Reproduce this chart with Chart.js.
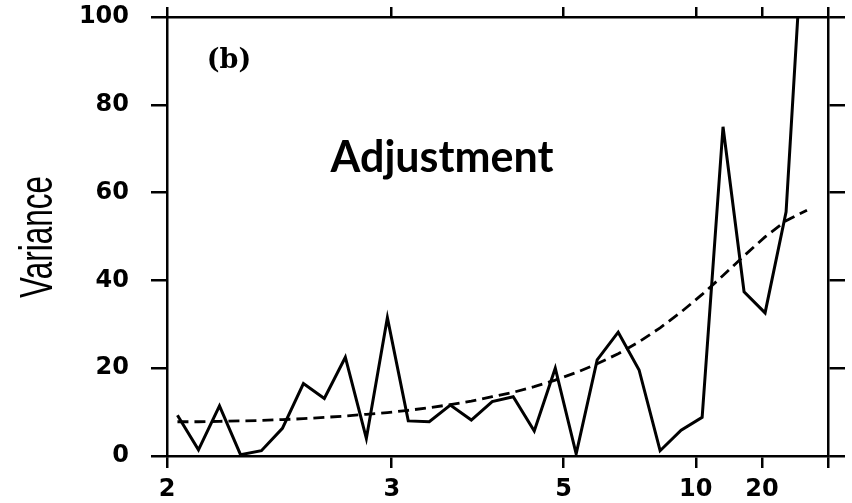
<!DOCTYPE html>
<html>
<head>
<meta charset="utf-8">
<script src="https://cdn.jsdelivr.net/npm/chart.js@4.4.0/dist/chart.umd.min.js"></script>
<style>
  html, body { margin: 0; padding: 0; background: #fff; }
</style>
</head>
<body>
<canvas id="chart" width="852" height="503"></canvas>
<script>
// frequency (cycles/yr) of each spectral estimate, left to right
const freq = [0.4921, 0.4762, 0.4603, 0.4444, 0.4286, 0.4127, 0.3968, 0.3810,
  0.3651, 0.3492, 0.3333, 0.3175, 0.3016, 0.2857, 0.2698, 0.2540, 0.2381,
  0.2222, 0.2063, 0.1905, 0.1746, 0.1587, 0.1429, 0.1270, 0.1111, 0.0952,
  0.0794, 0.0635, 0.0476, 0.0317, 0.0159];

// spectrum (solid line)
const variance = [9.3, 1.4, 11.4, 0.3, 1.2, 6.3, 16.5, 13.1, 22.5, 4.0, 31.5,
  8.0, 7.8, 11.6, 8.2, 12.4, 13.5, 5.7, 20.0, 0.5, 21.9, 28.2, 19.6, 1.2, 5.9,
  8.8, 75.0, 37.4, 32.6, 55.6, 135];

// red noise background (dashed line)
const redNoise = [7.8, 7.8, 7.9, 8.0, 8.1, 8.3, 8.5, 8.8, 9.1, 9.5, 9.9, 10.4,
  11.0, 11.7, 12.5, 13.5, 14.5, 15.8, 17.3, 19.0, 21.0, 23.3, 26.0, 29.2, 32.8,
  36.8, 41.1, 45.6, 49.9, 53.6, 56.0];

// x ticks are periods (years) placed at their frequency
const xTickFreqs = [0.5, 0.33, 0.2, 0.1, 0.05, 0];
const xTickLabels = ['2', '3', '5', '10', '20', ''];

const tickFont = { family: 'DejaVu Sans', weight: 'bold', size: 24 };

function setXTicks(scale) {
  scale.ticks = xTickFreqs.map(v => ({ value: v }));
}

// panel letter, annotation and condensed y title
const annotate = {
  id: 'annotate',
  afterDraw(chart) {
    const ctx = chart.ctx;
    ctx.save();
    ctx.fillStyle = '#000';
    ctx.textAlign = 'center';
    ctx.textBaseline = 'middle';
    ctx.font = 'bold 27px "DejaVu Serif"';
    ctx.fillText('(b)', 229, 61);

    ctx.textBaseline = 'alphabetic';
    ctx.font = 'bold 43px Lato';
    ctx.fillText('Adjustment', 442, 172);

    ctx.translate(52, 237);
    ctx.rotate(-Math.PI / 2);
    ctx.scale(0.67, 1);
    ctx.font = '47px "Liberation Sans"';
    ctx.fillText('Variance', 0, 0);
    ctx.restore();
  }
};

const ctx = document.getElementById('chart').getContext('2d');

new Chart(ctx, {
  type: 'line',
  data: {
    datasets: [
      {
        label: 'Variance',
        data: freq.map((f, i) => ({ x: f, y: variance[i] })),
        borderColor: '#000',
        borderWidth: 3,
        pointRadius: 0,
        fill: false,
        tension: 0,
      },
      {
        label: 'Red noise',
        data: freq.map((f, i) => ({ x: f, y: redNoise[i] })),
        borderColor: '#000',
        borderWidth: 2.8,
        borderDash: [11, 6],
        pointRadius: 0,
        fill: false,
        tension: 0,
      },
    ],
  },
  options: {
    responsive: false,
    animation: false,
    layout: { padding: 0 },
    plugins: { legend: { display: false }, tooltip: { enabled: false } },
    scales: {
      x: {
        type: 'linear', position: 'bottom', min: 0, max: 0.5, reverse: true,
        afterBuildTicks: setXTicks,
        afterFit: s => { s.height = 47; s.paddingLeft = 0; s.paddingRight = 0; },
        ticks: {
          callback: (v, i) => xTickLabels[i],
          font: tickFont, color: '#000', padding: 7,
          maxRotation: 0, autoSkip: false,
        },
        grid: { drawOnChartArea: false, tickLength: 12, color: '#000', lineWidth: 2.5 },
        border: { color: '#000', width: 2.5 },
      },
      x2: {
        type: 'linear', position: 'top', min: 0, max: 0.5, reverse: true,
        afterBuildTicks: setXTicks,
        afterFit: s => { s.height = 17; },
        ticks: { display: false },
        grid: { drawOnChartArea: false, tickLength: 10, color: '#000', lineWidth: 2.5 },
        border: { color: '#000', width: 2.5 },
      },
      y: {
        type: 'linear', position: 'left', min: 0, max: 100,
        afterFit: s => { s.width = 167; s.paddingTop = 0; s.paddingBottom = 0; },
        ticks: { stepSize: 20, font: tickFont, color: '#000', padding: 22 },
        grid: { drawOnChartArea: false, tickLength: 16, color: '#000', lineWidth: 2.5 },
        border: { color: '#000', width: 2.5 },
      },
      y2: {
        type: 'linear', position: 'right', min: 0, max: 100,
        afterFit: s => { s.width = 24; s.paddingTop = 0; s.paddingBottom = 0; },
        ticks: { stepSize: 20, display: false },
        grid: { drawOnChartArea: false, tickLength: 17, color: '#000', lineWidth: 2.5 },
        border: { color: '#000', width: 2.5 },
      },
    },
  },
  plugins: [annotate],
});
</script>
</body>
</html>
